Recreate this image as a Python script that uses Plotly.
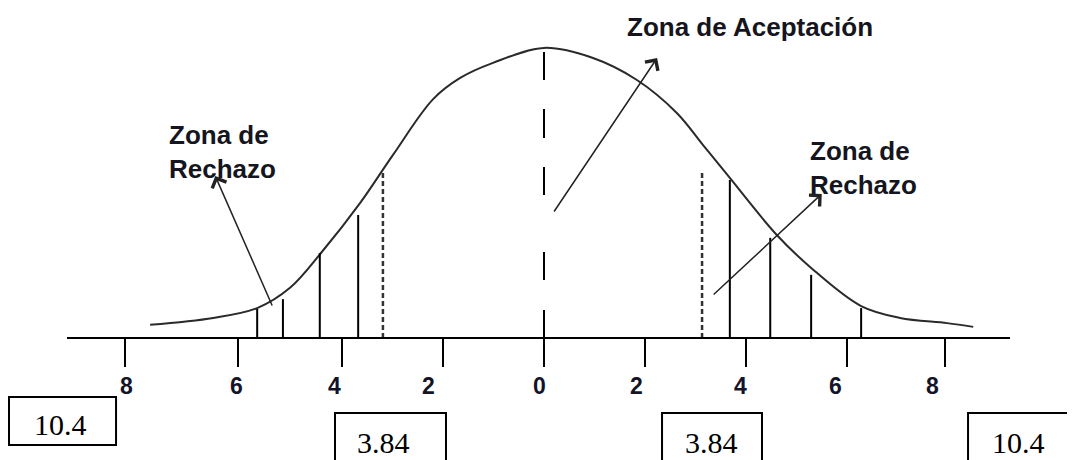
import plotly.graph_objects as go

# bell curve (x in axis units, y relative to peak)
curve_x = [-7.80, -6.55, -5.68, -5.03, -4.40, -3.64, -2.99, -2.20, -1.66, -1.01, 0.0,
           0.97, 1.84, 2.63, 3.15, 3.68, 4.61, 5.29, 6.28, 7.05, 7.98, 8.50]
curve_y = [0.042, 0.066, 0.100, 0.170, 0.294, 0.464, 0.630, 0.822, 0.896, 0.948, 1.0,
           0.965, 0.889, 0.775, 0.664, 0.550, 0.353, 0.239, 0.107, 0.066, 0.048, 0.035]

# solid vertical lines under the tails
bar_x = [-5.68, -5.17, -4.44, -3.68, 3.68, 4.48, 5.29, 6.28]
bar_h = [0.097, 0.131, 0.290, 0.422, 0.543, 0.343, 0.215, 0.100]

# dotted critical lines and the centre line
crit_x = [-3.19, 3.13]
crit_h = 0.567
center_h = 0.986

# axis ticks and labels
tick_pos = [-8.3, -6.05, -4.0, -2.0, 0, 2.0, 4.0, 6.0, 7.95]
label_pos = [-8.26, -6.08, -4.14, -2.28, -0.08, 1.84, 3.90, 5.78, 7.70]
tick_text = ["8", "6", "4", "2", "0", "2", "4", "6", "8"]

box_text = ["10.4", "3.84", "3.84", "10.4"]

fig = go.Figure()

fig.add_trace(go.Scatter(x=curve_x, y=curve_y, mode="lines",
                         line=dict(color="#2a2a2a", width=2, shape="spline", smoothing=1.0),
                         hoverinfo="skip", showlegend=False))

vx, vy = [], []
for x, h in zip(bar_x, bar_h):
    vx += [x, x, None]
    vy += [0, h, None]
fig.add_trace(go.Scatter(x=vx, y=vy, mode="lines", line=dict(color="black", width=2),
                         hoverinfo="skip", showlegend=False))

cx, cy = [], []
for x in crit_x:
    cx += [x, x, None]
    cy += [crit_h, 0, None]
fig.add_trace(go.Scatter(x=cx, y=cy, mode="lines",
                         line=dict(color="#333", width=2.5, dash="5px,3px"),
                         hoverinfo="skip", showlegend=False))

fig.add_trace(go.Scatter(x=[0, 0], y=[center_h, 0], mode="lines",
                         line=dict(color="black", width=2,
                                   dash="28px,29px,29px,29px,28px,57px,28px,30px,27px"),
                         hoverinfo="skip", showlegend=False))

# zone labels
zone_font = dict(family="Liberation Sans, Arial", size=26, color="#151520")
fig.add_annotation(x=4.08, y=1.074, text="<b>Zona de Aceptación</b>", showarrow=False,
                   font=zone_font, xanchor="center", yanchor="middle")
fig.add_annotation(x=-7.47, y=0.640, text="<b>Zona de<br>Rechazo</b>", showarrow=False,
                   font=zone_font, xanchor="left", yanchor="middle", align="left")
fig.add_annotation(x=5.23, y=0.586, text="<b>Zona de<br>Rechazo</b>", showarrow=False,
                   font=zone_font, xanchor="left", yanchor="middle", align="left")

# arrows (head, tail)
arrows = [((-6.51, 0.557), (-5.37, 0.104)),
          ((2.24, 0.965), (0.18, 0.429)),
          ((5.50, 0.495), (3.33, 0.142))]
for (hx, hy), (tx, ty) in arrows:
    fig.add_annotation(x=hx, y=hy, ax=tx, ay=ty, xref="x", yref="y", axref="x", ayref="y",
                       text="", showarrow=True, arrowhead=4, arrowsize=2.0, arrowwidth=1.5,
                       arrowcolor="#222", standoff=0, startstandoff=0)

# tick labels
for xp, t in zip(label_pos, tick_text):
    fig.add_annotation(x=xp, y=-0.1486, xref="x", yref="paper", text="<b>" + t + "</b>",
                       showarrow=False, font=dict(family="Liberation Sans, Arial", size=23, color="#141428"),
                       xanchor="center", yanchor="middle")

# boxed values below the axis (paper coordinates)
boxes = [(-0.0615, 0.052, -0.328, -0.182),
         (0.2842, 0.4019, -0.43, -0.231),
         (0.631, 0.737, -0.43, -0.231),
         (0.9555, 1.0668, -0.43, -0.231)]
text_pos = [(-0.0074, -0.265), (0.336, -0.321), (0.683, -0.321), (1.0085, -0.321)]
for (x0, x1, y0, y1), (tx, ty), t in zip(boxes, text_pos, box_text):
    fig.add_shape(type="rect", xref="paper", yref="paper", x0=x0, x1=x1, y0=y0, y1=y1,
                  line=dict(color="black", width=2), fillcolor="rgba(0,0,0,0)")
    fig.add_annotation(x=tx, y=ty, xref="paper", yref="paper", text=t, showarrow=False,
                       font=dict(family="Liberation Serif, Times New Roman", size=30, color="black"),
                       xanchor="center", yanchor="middle")

fig.update_xaxes(range=[-9.446, 9.228], showline=True, linewidth=2, linecolor="black",
                 ticks="outside", ticklen=28, tickwidth=2, tickcolor="black",
                 tickvals=tick_pos, showticklabels=False, showgrid=False, zeroline=False)
fig.update_yaxes(range=[0, 1.138], visible=False, showgrid=False, zeroline=False)
# the page adds an 8px body margin, so the layout is shifted up/left by 8px
fig.update_layout(width=1075, height=460, margin=dict(l=59, r=73, t=0, b=131),
                  plot_bgcolor="white", paper_bgcolor="white", showlegend=False)

fig.write_html("out.html")
